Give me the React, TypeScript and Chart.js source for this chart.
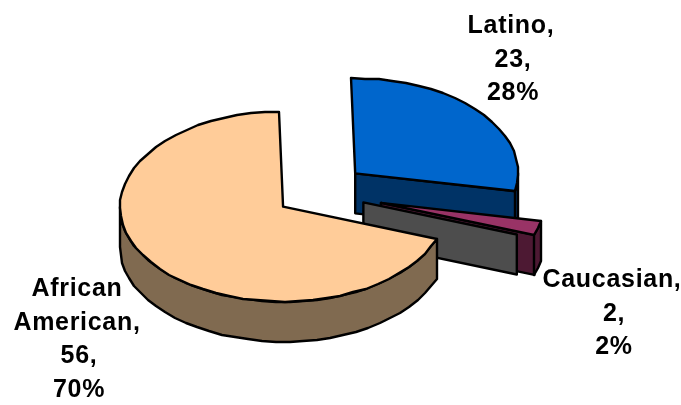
import React, { useEffect, useRef } from "react";
import { Chart, registerables } from "chart.js";

Chart.register(...registerables);

// Group sizes and the shares printed beside each slice
const groups = ["Latino", "Caucasian", "African American"];
const counts = [23, 2, 56];
const shares = ["28%", "2%", "70%"];

// Slice styling
const topColors = ["#0066CC", "#993366", "#FFCC99"];
const sideColors = ["#003366", "#4D1933", "#806A50"];
const rearFaceColor = "#4D4D4D";

// Pie geometry
const explode = [51, 67, 41];
const rearFaceExplode = 50;
const TILT = 0.583;
const DEPTH = 40;
const RADIUS = 163;
const ROTATION = -1.4;

// Label placement: centre x and first baseline for each group
const labelCentres = [511, 612, 77];
const labelBaselines = [33, 287, 296];
const LINE_HEIGHT = 33.6;
const NUMBER_NUDGE = 2;

// Rims are outlined as short whole-pixel segments, which gives them a slightly rough edge
const STEP = (5 * Math.PI) / 180;

type Pt = { x: number; y: number };

function project(arc: any, shift: number, dir: number, angle: number, r: number, dz: number): Pt {
  return {
    x: arc.x + Math.cos(dir) * shift + Math.cos(angle) * r,
    y: arc.y + TILT * (Math.sin(dir) * shift + Math.sin(angle) * r) + dz,
  };
}

function rimPoints(arc: any, shift: number, dir: number, from: number, to: number, dz: number): Pt[] {
  const pts: Pt[] = [];
  const n = Math.max(1, Math.ceil((to - from) / STEP));
  for (let k = 0; k <= n; k++) {
    const p = project(arc, shift, dir, from + ((to - from) * k) / n, arc.outerRadius, dz);
    pts.push({ x: Math.round(p.x), y: Math.round(p.y) });
  }
  return pts;
}

function shape(ctx: CanvasRenderingContext2D, pts: Pt[], fill: string | null) {
  ctx.beginPath();
  pts.forEach((p, k) => (k ? ctx.lineTo(p.x, p.y) : ctx.moveTo(p.x, p.y)));
  ctx.closePath();
  if (fill) {
    ctx.fillStyle = fill;
    ctx.fill();
  }
  ctx.lineWidth = 2.4;
  ctx.lineJoin = "round";
  ctx.strokeStyle = "#000000";
  ctx.stroke();
}

function midAngle(arc: any) {
  return (arc.startAngle + arc.endAngle) / 2;
}

// Flat cut face running from the slice's apex to its rim along one angle
function cutFace(ctx: CanvasRenderingContext2D, arc: any, shift: number, dir: number, angle: number, fill: string) {
  const zero = project(arc, shift, dir, angle, 0, 0);
  const rim = project(arc, shift, dir, angle, arc.outerRadius, 0);
  shape(ctx, [zero, rim, { x: rim.x, y: rim.y + DEPTH }, { x: zero.x, y: zero.y + DEPTH }], fill);
}

const tiltedPie = {
  id: "tiltedPie",
  // Extruded sides, painted back to front beneath the slice tops
  beforeDatasetsDraw(chart: any) {
    const ctx: CanvasRenderingContext2D = chart.ctx;
    const arcs = chart.getDatasetMeta(0).data;
    arcs.forEach((arc: any, i: number) => {
      const mid = midAngle(arc);
      if (arc.endAngle < Math.PI / 2) {
        cutFace(ctx, arc, explode[i], mid, arc.endAngle, sideColors[i]);
      }
      const from = Math.max(arc.startAngle, 0);
      const to = Math.min(arc.endAngle, Math.PI);
      if (to > from) {
        const upper = rimPoints(arc, explode[i], mid, from, to, 0);
        const lower = rimPoints(arc, explode[i], mid, from, to, DEPTH).reverse();
        shape(ctx, upper.concat(lower), sideColors[i]);
      }
      if (i === 1) {
        cutFace(ctx, arc, rearFaceExplode, arc.endAngle, arc.endAngle, rearFaceColor);
      }
    });
  },
  // Slice tops: the library's arcs, squashed and pushed out individually
  beforeDatasetDraw(chart: any) {
    const ctx: CanvasRenderingContext2D = chart.ctx;
    chart.getDatasetMeta(0).data.forEach((arc: any, i: number) => {
      const mid = midAngle(arc);
      ctx.save();
      ctx.translate(arc.x, arc.y);
      ctx.scale(1, TILT);
      ctx.translate(-arc.x, -arc.y);
      ctx.translate(Math.cos(mid) * explode[i], Math.sin(mid) * explode[i]);
      arc.draw(ctx);
      ctx.restore();
    });
    return false;
  },
  afterDatasetsDraw(chart: any) {
    const ctx: CanvasRenderingContext2D = chart.ctx;
    chart.getDatasetMeta(0).data.forEach((arc: any, i: number) => {
      const mid = midAngle(arc);
      const apex = project(arc, explode[i], mid, 0, 0, 0);
      shape(ctx, [apex, ...rimPoints(arc, explode[i], mid, arc.startAngle, arc.endAngle, 0)], null);
    });

    ctx.save();
    ctx.fillStyle = "#000000";
    ctx.font = 'bold 25px "Liberation Sans", Arial, sans-serif';
    ctx.textAlign = "center";
    ctx.textBaseline = "alphabetic";
    (ctx as any).letterSpacing = "0.7px";
    groups.forEach((name, i) => {
      const words = name.split(" ");
      words[words.length - 1] += ",";
      const numbers = [`${counts[i]},`, shares[i]];
      words.forEach((line, k) => {
        ctx.fillText(line, labelCentres[i], labelBaselines[i] + k * LINE_HEIGHT);
      });
      numbers.forEach((line, k) => {
        ctx.fillText(line, labelCentres[i] + NUMBER_NUDGE, labelBaselines[i] + (words.length + k) * LINE_HEIGHT);
      });
    });
    ctx.restore();
  },
};

export default function App() {
  const canvasRef = useRef<HTMLCanvasElement>(null);

  useEffect(() => {
    const chart = new Chart(canvasRef.current as HTMLCanvasElement, {
      type: "pie",
      data: {
        labels: groups,
        datasets: [
          {
            data: counts,
            backgroundColor: topColors,
            borderWidth: 0,
            radius: RADIUS,
            rotation: ROTATION,
            clip: false,
          } as any,
        ],
      },
      options: {
        animation: false,
        responsive: false,
        events: [],
        layout: { padding: { right: 48.4, bottom: 19.8 } },
        plugins: { legend: { display: false }, tooltip: { enabled: false } },
      },
      plugins: [tiltedPie],
    });
    return () => chart.destroy();
  }, []);

  return (
    <div style={{ position: "absolute", left: 0, top: 0, width: 681, height: 405, background: "#ffffff" }}>
      <canvas ref={canvasRef} width={681} height={405} style={{ display: "block" }} />
    </div>
  );
}
